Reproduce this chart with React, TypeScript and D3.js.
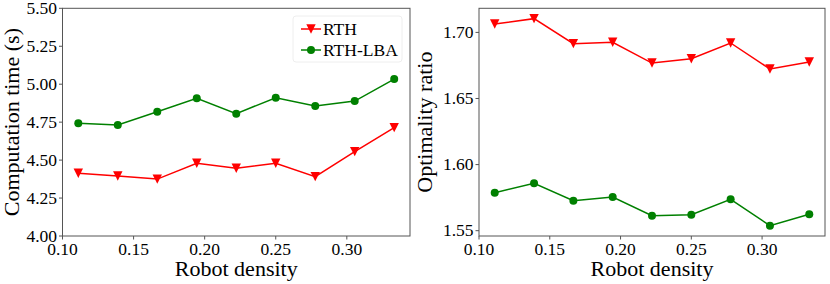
import * as d3 from "d3";

const DENSITY = [4, 5, 6, 7, 8, 9, 10, 11, 12].map((k) => k / 36);
const TIME_RTH = [4.413, 4.395, 4.375, 4.479, 4.446, 4.479, 4.391, 4.556, 4.714];
const TIME_LBA = [4.742, 4.731, 4.819, 4.907, 4.806, 4.911, 4.856, 4.889, 5.034];
const RATIO_RTH = [1.7063, 1.7104, 1.6915, 1.6925, 1.6768, 1.6801, 1.692, 1.6723, 1.6776];
const RATIO_LBA = [1.5787, 1.5858, 1.5727, 1.5755, 1.5613, 1.5621, 1.5737, 1.5538, 1.5624];
const X_TICKS = [0.1, 0.15, 0.2, 0.25, 0.3];
const TIME_TICKS = [4.0, 4.25, 4.5, 4.75, 5.0, 5.25, 5.5];
const RATIO_TICKS = [1.55, 1.6, 1.65, 1.7];

const FONT = "'Liberation Serif', 'Times New Roman', serif";
const RED = "#ff0000";
const GREEN = "#008000";
const SPINE = "#555";
const TOP = 8.3, BOTTOM = 236;

function pad(ext: [number, number]): [number, number] {
  const m = (ext[1] - ext[0]) * 0.05;
  return [ext[0] - m, ext[1] + m];
}

function Tri({ x, y, s = 4.7 }: { x: number; y: number; s?: number }) {
  return <path d={`M${x - s},${y - s}L${x + s},${y - s}L${x},${y + s}Z`} fill={RED} />;
}

function Panel(props: {
  left: number; right: number; yDomain: [number, number]; yTicks: number[];
  rth: number[]; lba: number[]; yLabel: string; yLabelX: number; legend?: boolean;
}) {
  const { left, right, yDomain, yTicks, rth, lba, yLabel, yLabelX, legend } = props;
  const x = d3.scaleLinear().domain(pad(d3.extent(DENSITY) as [number, number])).range([left, right]);
  const y = d3.scaleLinear().domain(yDomain).range([BOTTOM, TOP]);
  const line = d3.line<number>().x((_, i) => x(DENSITY[i])).y((d) => y(d));
  return (
    <g>
      <path d={line(lba) || ""} fill="none" stroke={GREEN} strokeWidth={1.5} />
      {lba.map((v, i) => <circle key={"g" + i} cx={x(DENSITY[i])} cy={y(v)} r={4} fill={GREEN} />)}
      <path d={line(rth) || ""} fill="none" stroke={RED} strokeWidth={1.5} />
      {rth.map((v, i) => <Tri key={"r" + i} x={x(DENSITY[i])} y={y(v)} />)}
      <rect x={left} y={TOP} width={right - left} height={BOTTOM - TOP} fill="none" stroke={SPINE} strokeWidth={1} />
      {X_TICKS.map((t) => (
        <g key={"x" + t}>
          <line x1={x(t)} x2={x(t)} y1={BOTTOM} y2={BOTTOM + 3.5} stroke={SPINE} />
          <text x={x(t)} y={255} textAnchor="middle" fontSize={17.5} fontFamily={FONT}>{t.toFixed(2)}</text>
        </g>
      ))}
      {yTicks.map((t) => (
        <g key={"y" + t}>
          <line x1={left - 3.5} x2={left} y1={y(t)} y2={y(t)} stroke={SPINE} />
          <text x={left - 5.5} y={y(t) + 5.8} textAnchor="end" fontSize={17.5} fontFamily={FONT}>{t.toFixed(2)}</text>
        </g>
      ))}
      <text x={(left + right) / 2} y={276} textAnchor="middle" fontSize={22} fontFamily={FONT}>Robot density</text>
      <text transform={`translate(${yLabelX},${(TOP + BOTTOM) / 2}) rotate(-90)`} textAnchor="middle" fontSize={22} fontFamily={FONT}>{yLabel}</text>
      {legend && (
        <g>
          <rect x={293} y={16} width={109} height={46} rx={3} fill="#fff" fillOpacity={0.8} stroke="#eee" />
          <line x1={301} x2={321} y1={29} y2={29} stroke={RED} strokeWidth={1.5} />
          <Tri x={311} y={29} />
          <text x={323} y={35} fontSize={17.5} fontFamily={FONT}>RTH</text>
          <line x1={301} x2={321} y1={50} y2={50} stroke={GREEN} strokeWidth={1.5} />
          <circle cx={311} cy={50} r={4} fill={GREEN} />
          <text x={323} y={55.7} fontSize={17.5} fontFamily={FONT}>RTH-LBA</text>
        </g>
      )}
    </g>
  );
}

export default function App() {
  const ratioExt = pad(d3.extent([...RATIO_RTH, ...RATIO_LBA]) as [number, number]);
  return (
    <svg width={830} height={284} style={{ position: "absolute", left: 0, top: 0, background: "#fff" }}>
      <Panel left={62.5} right={410} yDomain={[4, 5.5]} yTicks={TIME_TICKS} rth={TIME_RTH} lba={TIME_LBA}
        yLabel="Computation time (s)" yLabelX={18.5} legend />
      <Panel left={479} right={825} yDomain={ratioExt} yTicks={RATIO_TICKS} rth={RATIO_RTH} lba={RATIO_LBA}
        yLabel="Optimality ratio" yLabelX={432} />
    </svg>
  );
}
